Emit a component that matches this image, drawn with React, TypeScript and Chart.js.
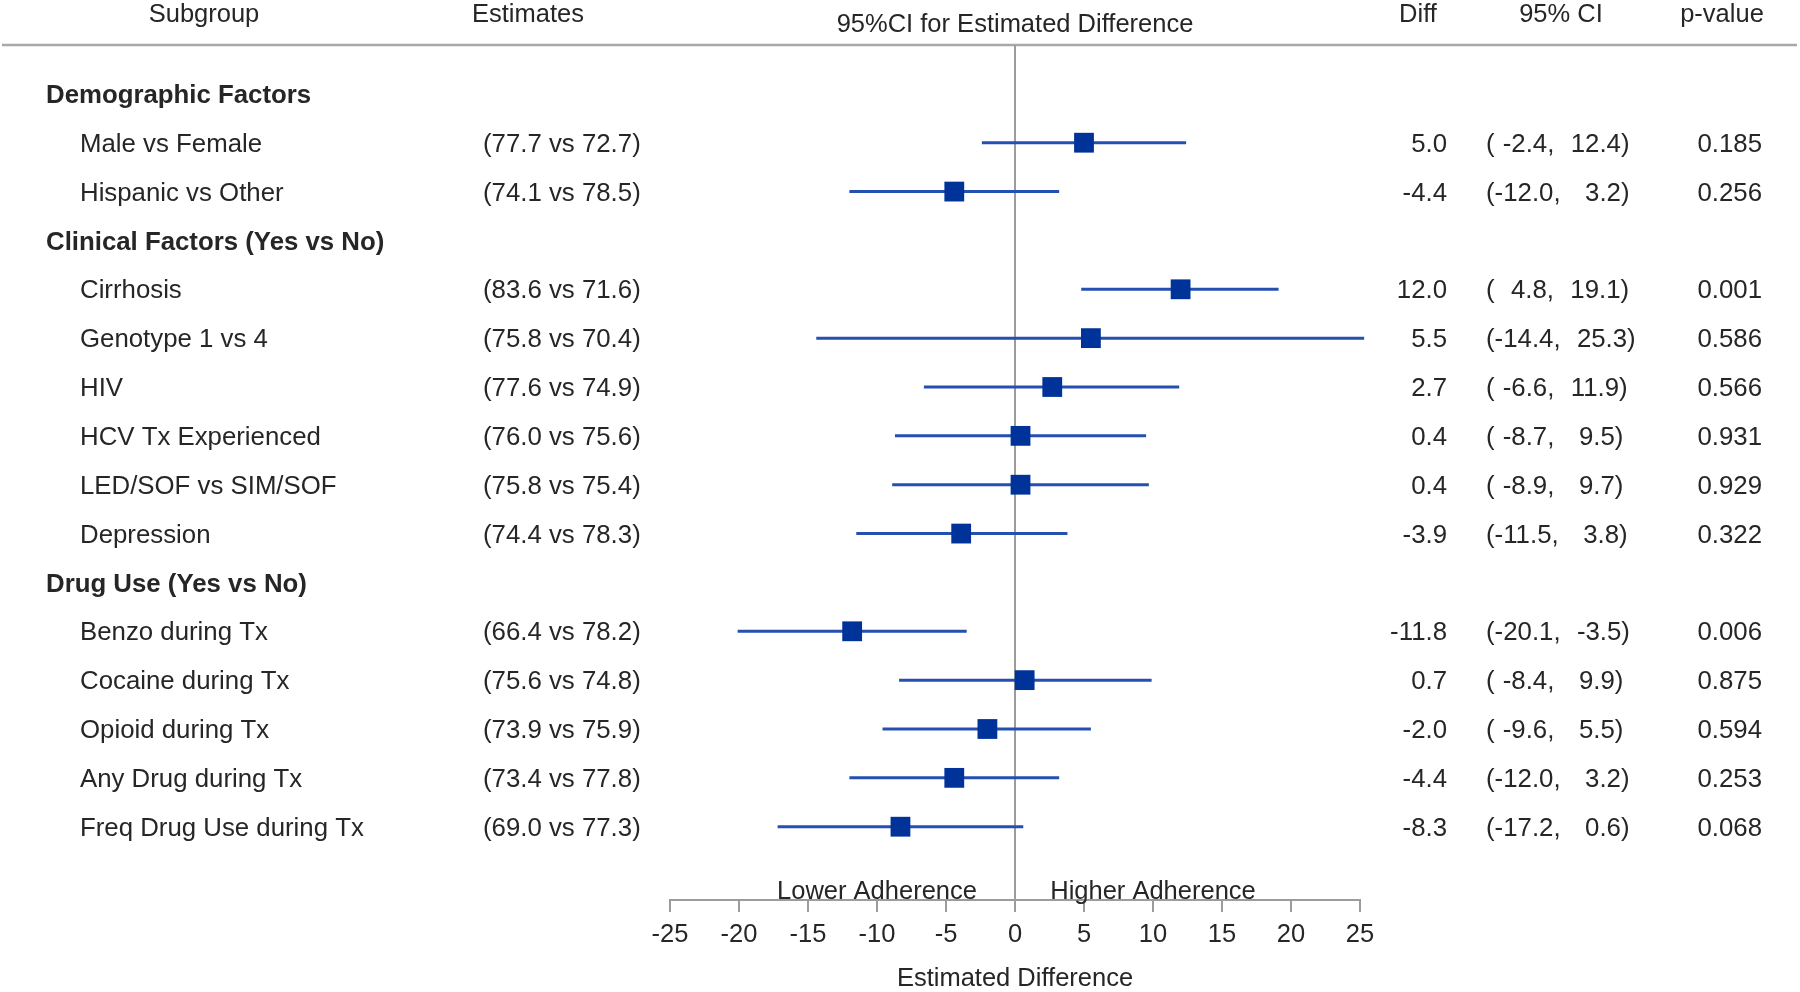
import React, { useEffect, useRef } from "react";
import { Chart, registerables } from "chart.js";

Chart.register(...registerables);

// ---------- data ----------
const sections = ["Demographic Factors", "Clinical Factors (Yes vs No)", "Drug Use (Yes vs No)"];
const sectionSizes = [2, 6, 5];
const subgroups = [
  "Male vs Female",
  "Hispanic vs Other",
  "Cirrhosis",
  "Genotype 1 vs 4",
  "HIV",
  "HCV Tx Experienced",
  "LED/SOF vs SIM/SOF",
  "Depression",
  "Benzo during Tx",
  "Cocaine during Tx",
  "Opioid during Tx",
  "Any Drug during Tx",
  "Freq Drug Use during Tx",
];
const estYes = [77.7, 74.1, 83.6, 75.8, 77.6, 76.0, 75.8, 74.4, 66.4, 75.6, 73.9, 73.4, 69.0];
const estNo = [72.7, 78.5, 71.6, 70.4, 74.9, 75.6, 75.4, 78.3, 78.2, 74.8, 75.9, 77.8, 77.3];
const diffs = [5.0, -4.4, 12.0, 5.5, 2.7, 0.4, 0.4, -3.9, -11.8, 0.7, -2.0, -4.4, -8.3];
const ciLow = [-2.4, -12.0, 4.8, -14.4, -6.6, -8.7, -8.9, -11.5, -20.1, -8.4, -9.6, -12.0, -17.2];
const ciHigh = [12.4, 3.2, 19.1, 25.3, 11.9, 9.5, 9.7, 3.8, -3.5, 9.9, 5.5, 3.2, 0.6];
const pValues = ["0.185", "0.256", "0.001", "0.586", "0.566", "0.931", "0.929", "0.322", "0.006", "0.875", "0.594", "0.253", "0.068"];
const xTicks = [-25, -20, -15, -10, -5, 0, 5, 10, 15, 20, 25];
const columnHeaders = ["Subgroup", "Estimates", "95%CI for Estimated Difference", "Diff", "95% CI", "p-value"];
const directionLabels = ["Lower Adherence", "Higher Adherence"];
const directionAt = [-10, 10];

// ---------- layout helpers ----------
const FONT = '"Liberation Sans", Arial, Helvetica, sans-serif';
const TEXT = "#262626";
const AXIS = "#9c9c9c";
const ROW_PX = 25.8;
const HEAD_PX = 25.5;

function buildRows() {
  const headerRows: number[] = [];
  const subRows: number[] = [];
  let r = 0;
  sectionSizes.forEach((n) => {
    headerRows.push(r++);
    for (let i = 0; i < n; i++) subRows.push(r++);
  });
  return { headerRows, subRows, total: r };
}

function pad(v: number, w: number) {
  const s = v.toFixed(1);
  return s.length >= w ? s : " ".repeat(w - s.length) + s;
}

export default function App() {
  const ref = useRef<HTMLCanvasElement | null>(null);

  useEffect(() => {
    const canvas = ref.current;
    if (!canvas) return;
    const { headerRows, subRows, total } = buildRows();

    const textPlugin = {
      id: "forestText",
      beforeDatasetsDraw(chart: any) {
        const ctx = chart.ctx;
        ctx.save();
        ctx.strokeStyle = "#a8a8a8";
        ctx.lineWidth = 2.5;
        ctx.beginPath();
        ctx.moveTo(2, 45);
        ctx.lineTo(1797, 45);
        ctx.stroke();
        ctx.restore();
      },
      afterDraw(chart: any) {
        const ctx = chart.ctx;
        const xs = chart.scales.x;
        const ys = chart.scales.y;
        ctx.save();
        ctx.fillStyle = TEXT;
        ctx.textBaseline = "middle";
        ctx.font = `${HEAD_PX}px ${FONT}`;
        // column headers
        const hx = [204, 528, xs.getPixelForValue(0), 1418, 1561, 1722];
        const hy = [15, 15, 25, 15, 15, 15];
        ctx.textAlign = "center";
        columnHeaders.forEach((t, i) => ctx.fillText(t, hx[i], hy[i]));
        // section headers
        ctx.textAlign = "left";
        ctx.font = `bold ${ROW_PX}px ${FONT}`;
        sections.forEach((t, i) => ctx.fillText(t, 46, ys.getPixelForValue(headerRows[i]) + 2));
        // subgroup rows
        ctx.font = `${ROW_PX}px ${FONT}`;
        subgroups.forEach((t, i) => {
          const py = ys.getPixelForValue(subRows[i]) + 2;
          ctx.textAlign = "left";
          ctx.fillText(t, 80, py);
          ctx.fillText(`(${estYes[i].toFixed(1)} vs ${estNo[i].toFixed(1)})`, 483, py);
          ctx.textAlign = "right";
          ctx.fillText(diffs[i].toFixed(1), 1447, py);
          ctx.textAlign = "left";
          (ctx as any).wordSpacing = "1px";
          ctx.fillText(`(${pad(ciLow[i], 5)},  ${pad(ciHigh[i], 4)})`, 1486, py);
          (ctx as any).wordSpacing = "0px";
          ctx.textAlign = "right";
          ctx.fillText(pValues[i], 1762, py);
        });
        // direction labels
        ctx.font = `${HEAD_PX}px ${FONT}`;
        ctx.textAlign = "center";
        directionLabels.forEach((t, i) => {
          ctx.fillText(t, xs.getPixelForValue(directionAt[i]), chart.chartArea.bottom - 8);
        });
        ctx.restore();
      },
    };

    const whiskers = subgroups.map((_, i) => ({
      type: "line",
      data: [
        { x: ciLow[i], y: subRows[i] },
        { x: ciHigh[i], y: subRows[i] },
      ],
      borderColor: "#2450b0",
      borderWidth: 3,
      pointRadius: 0,
      clip: false,
      order: 2,
    }));

    const chart = new Chart(canvas, {
      type: "line",
      data: {
        datasets: [
          {
            type: "line",
            data: diffs.map((d, i) => ({ x: d, y: subRows[i] })),
            showLine: false,
            pointStyle: "rect",
            pointRadius: 14,
            pointBackgroundColor: "#003399",
            pointBorderColor: "#003399",
            pointBorderWidth: 0,
            order: 1,
          },
          ...whiskers,
          {
            type: "line",
            data: [
              { x: 0, y: -1 },
              { x: 0, y: total + 0.5 },
            ],
            borderColor: AXIS,
            borderWidth: 2,
            pointRadius: 0,
            order: 3,
          },
        ] as any,
      },
      options: {
        animation: false,
        responsive: false,
        devicePixelRatio: 1,
        layout: { padding: { left: 670, right: 440, top: 45, bottom: 0 } },
        plugins: { legend: { display: false }, tooltip: { enabled: false } },
        scales: {
          x: {
            type: "linear",
            min: -25,
            max: 25,
            afterBuildTicks: (s: any) => {
              s.ticks = xTicks.map((v) => ({ value: v }));
            },
            afterFit: (s: any) => {
              s.height = 92;
            },
            ticks: { font: { family: FONT, size: HEAD_PX }, color: TEXT, padding: 8 },
            grid: { drawOnChartArea: false, drawTicks: true, tickLength: 12, color: AXIS, lineWidth: 2 },
            border: { display: true, color: AXIS, width: 2 },
            title: {
              display: true,
              text: "Estimated Difference",
              font: { family: FONT, size: HEAD_PX },
              color: TEXT,
              padding: { top: 0, bottom: -2 },
            },
          },
          y: {
            type: "linear",
            display: false,
            reverse: true,
            min: -1,
            max: total + 0.5,
          },
        },
      } as any,
      plugins: [textPlugin],
    });
    return () => chart.destroy();
  }, []);

  return (
    <div style={{ position: "fixed", left: 0, top: 0, width: 1800, height: 992, background: "#fff" }}>
      <canvas ref={ref} width={1800} height={992} style={{ display: "block" }} />
    </div>
  );
}
